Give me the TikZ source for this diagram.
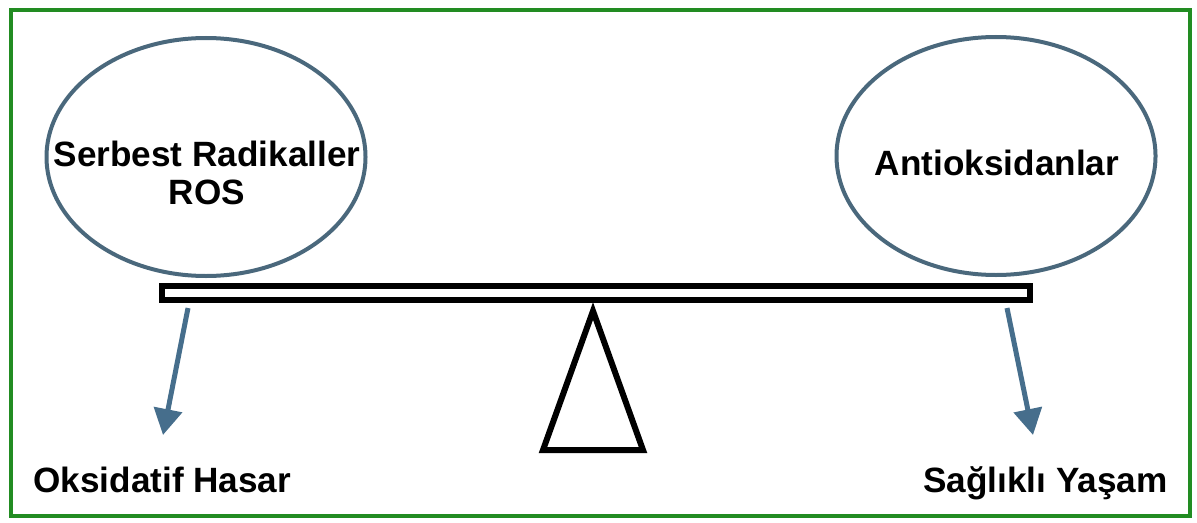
\documentclass[tikz,border=0pt]{standalone}
\usepackage{fontspec}
\setmainfont{Liberation Sans}
\usepackage{tikz}
\usetikzlibrary{
  arrows.meta,
  positioning,
  shapes.geometric
}
\definecolor{framegreen}{RGB}{34, 140, 34}
\definecolor{bubblegray}{RGB}{74, 104, 124}
\definecolor{arrowblue}{RGB}{70, 110, 140}

\begin{document}
\begin{tikzpicture}[
  bubble/.style={ellipse, draw=bubblegray, line width=0.08cm, minimum width=6.38cm, minimum height=4.76cm, inner sep=0pt},
  bigtext/.style={font=\fontsize{20}{21.6}\selectfont\bfseries, align=center, inner sep=0pt},
  pointer/.style={arrowblue, line width=0.1cm, -{Triangle[length=0.52cm, width=0.56cm]}}
]
  \useasboundingbox (0,0) rectangle (23.94,10.44);
  \draw[framegreen, line width=0.09cm] (0.22,0.12) rectangle (23.80,10.24);
  % the two pans
  \node[bubble] (radicals) at (4.12,7.30) {};
  \node[bubble] (antiox) at (19.92,7.32) {};
  \node[bigtext] (radtext) at (4.14,6.98) {Serbest Radikaller\\ROS};
  \node[bigtext, anchor=base] (antitext) at (19.94,6.94) {Antioksidanlar};
  % beam and fulcrum
  \node[draw, line width=0.11cm, minimum width=17.36cm, minimum height=0.28cm, inner sep=0pt] (beam) at (11.92,4.58) {};
  \draw[line width=0.12cm] (11.86,4.22) -- (10.86,1.44) -- (12.86,1.44) -- cycle;
  % outcomes
  \node[bigtext, anchor=base west] (damage) at (0.66,0.60) {Oksidatif Hasar};
  \node[bigtext, anchor=base east] (health) at (23.36,0.60) {Sağlıklı Yaşam};
  \coordinate (lfrom) at (3.76,4.28);
  \coordinate (lto) at (3.26,1.74);
  \coordinate (rfrom) at (20.14,4.28);
  \coordinate (rto) at (20.66,1.74);
  \draw[pointer] (lfrom) -- (lto);
  \draw[pointer] (rfrom) -- (rto);
\end{tikzpicture}
\end{document}
